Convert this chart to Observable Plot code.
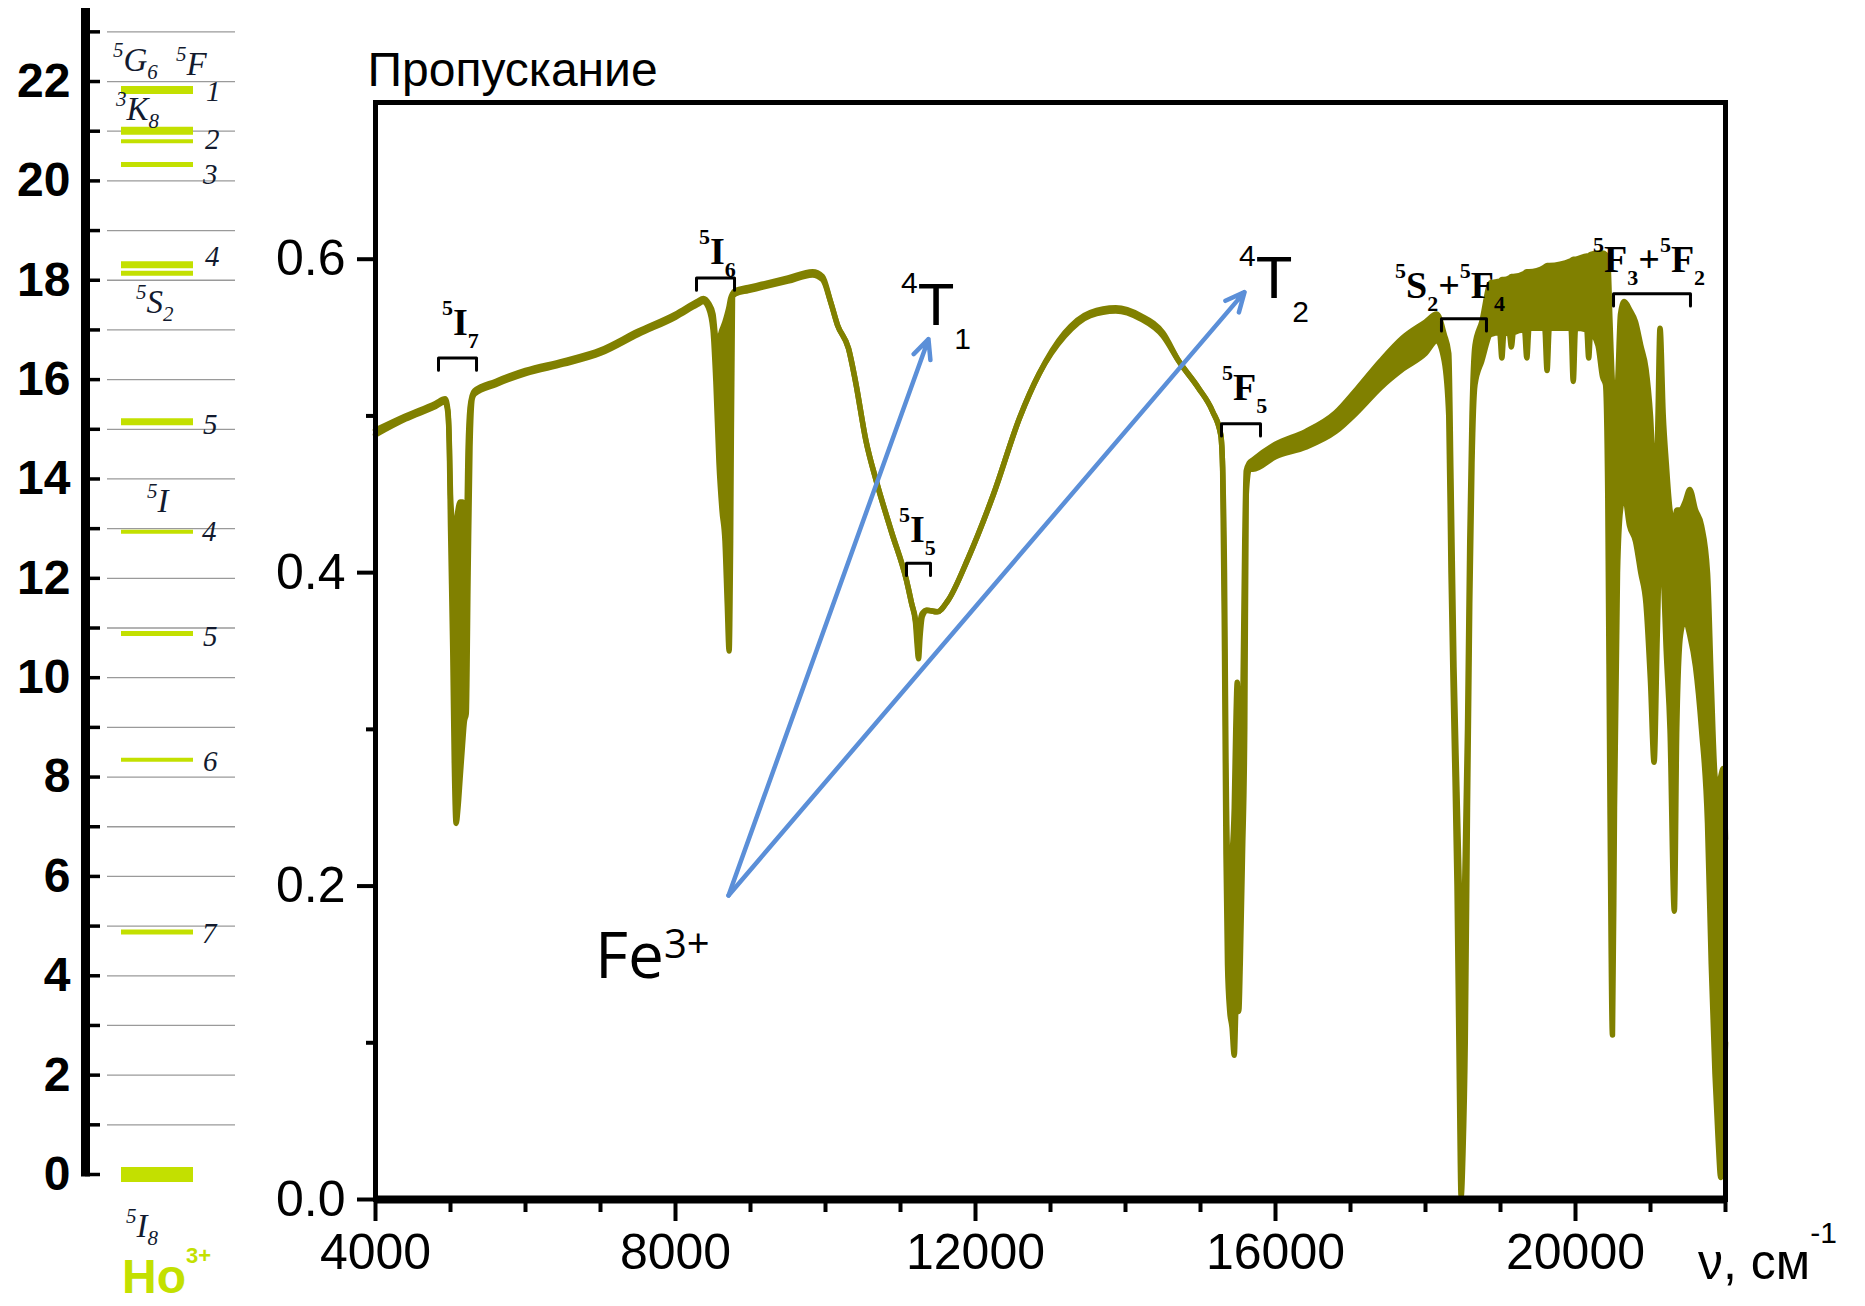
<!DOCTYPE html>
<html><head><meta charset="utf-8">
<script src="https://cdn.jsdelivr.net/npm/d3@7"></script>
<script src="https://cdn.jsdelivr.net/npm/@observablehq/plot@0.6"></script>
<style>
html,body{margin:0;padding:0;background:#fff;}
#wrap{position:relative;width:1865px;height:1306px;overflow:hidden;background:#fff;}
#wrap > svg{position:absolute;left:0;top:0;}
</style></head>
<body><div id="wrap"></div>
<script>
// ---------- Spectrum (transmission vs wavenumber, cm^-1) ----------
const wn = [4000,4400,4800,4928,4965,4985,5000,5030,5050,5075,5100,5130,5160,5185,5210,5235,5260,5290,5320,5600,6000,6500,7000,7500,8000,8290,8373,8440,8500,8540,8580,8620,8660,8690,8715,8735,8760,8800,8970,9150,9500,9827,9960,10067,10160,10307,10400,10540,10680,10880,11080,11150,11200,11220,11240,11262,11290,11350,11490,11630,11900,12240,12590,12850,13190,13530,13870,14200,14500,14710,14970,15160,15270,15295,15320,15340,15360,15390,15420,15450,15470,15490,15510,15530,15560,15590,15610,15650,15700,16000,16400,16800,17100,17400,17700,18000,18150,18250,18310,18340,18380,18420,18450,18475,18500,18530,18560,18590,18620,18660,18750,18870,18990,19018,19045,19120,19145,19170,19320,19351,19380,19590,19621,19650,19940,19970,20000,20150,20176,20200,20300,20360,20400,20430,20460,20493,20520,20560,20600,20650,20720,20800,20870,20940,21000,21048,21090,21127,21170,21210,21260,21318,21350,21400,21460,21524,21600,21680,21760,21810,21860,21900,21937,21969,22000];
const tLow = [.488,.498,.506,.509,.502,.478,.430,.350,.280,.240,.250,.270,.290,.305,.310,.400,.480,.511,.514,.520,.527,.533,.540,.552,.563,.571,.573,.569,.555,.520,.470,.440,.420,.380,.350,.420,.576,.578,.580,.582,.586,.590,.587,.573,.558,.543,.522,.484,.458,.426,.395,.380,.368,.355,.345,.360,.372,.376,.375,.382,.409,.450,.499,.527,.551,.564,.567,.562,.551,.535,.518,.503,.488,.467,.350,.220,.150,.120,.110,.092,.120,.150,.120,.150,.220,.300,.450,.466,.466,.474,.480,.490,.503,.518,.530,.540,.548,.535,.500,.400,.300,.200,.080,.002,.030,.100,.250,.380,.470,.520,.535,.552,.553,.537,.553,.552,.544,.553,.555,.537,.556,.556,.529,.556,.556,.522,.556,.555,.537,.553,.545,.525,.520,.450,.250,.105,.250,.400,.440,.450,.430,.420,.400,.380,.330,.279,.360,.420,.400,.350,.300,.184,.300,.360,.370,.360,.340,.300,.240,.150,.080,.040,.014,.050,.100];
const tHigh = [.491,.500,.508,.511,.504,.482,.450,.430,.425,.430,.440,.445,.445,.440,.420,.480,.505,.513,.516,.522,.529,.535,.542,.554,.565,.573,.575,.572,.565,.550,.550,.555,.560,.565,.570,.575,.578,.580,.582,.584,.588,.592,.589,.573,.558,.543,.522,.484,.458,.426,.395,.380,.370,.362,.350,.368,.374,.376,.375,.382,.409,.450,.499,.527,.553,.566,.569,.564,.553,.535,.518,.503,.488,.467,.400,.280,.220,.210,.220,.250,.300,.330,.280,.250,.300,.420,.465,.470,.472,.482,.490,.502,.518,.535,.550,.560,.565,.552,.540,.460,.340,.260,.200,.150,.160,.220,.300,.420,.500,.545,.560,.585,.586,.587,.587,.588,.589,.589,.591,.592,.592,.595,.596,.596,.599,.600,.600,.602,.602,.603,.604,.604,.603,.600,.560,.520,.510,.520,.565,.573,.568,.560,.545,.530,.500,.460,.480,.556,.500,.470,.440,.430,.440,.440,.445,.453,.440,.430,.400,.330,.270,.260,.270,.275,.230];

// Axis ticks
const xMajor = [4000, 8000, 12000, 16000, 20000];
const xMinor = [5000,6000,7000,9000,10000,11000,13000,14000,15000,17000,18000,19000,21000,22000];
const yMajor = [0, 0.2, 0.4, 0.6];
const yMinor = [0.1, 0.3, 0.5];

// Ho3+ transition brackets (wavenumber range, transmission level)
const bracketFrom = [4840, 8280, 11080, 15280, 18213, 20507];
const bracketTo   = [5347, 8787, 11400, 15800, 18813, 21533];
const bracketAt   = [0.537, 0.588, 0.406, 0.495, 0.562, 0.578];
const bracketText = ["^5|I|_7", "^5|I|_6", "^5|I|_5", "^5|F|_5", "^5|S|_2|+|^5|F|_4", "^5|F|_3|+|^5|F|_2"];
const bracketTextWn = [4893, 8320, 10987, 15293, 17600, 20240];
const bracketTextT  = [0.5513, 0.5966, 0.4192, 0.5098, 0.5749, 0.5915];

// Fe3+ arrows
const arrowFromWn = [8707, 8707], arrowFromT = [0.194, 0.194];
const arrowToWn = [11373, 15587], arrowToT = [0.549, 0.579];
const feText = ["^4|T|_1", "^4|T|_2"];
const feTextWn = [11013, 15520], feTextT = [0.5577, 0.5749];

// ---------- Ho3+ energy levels (10^3 cm^-1) ----------
const levelE = [0, 4.88, 8.35, 10.89, 12.94, 15.15, 18.14, 18.31, 20.33, 20.8, 21.01, 21.83];
const levelThickness = [15, 5, 4, 5, 4, 7, 5, 7, 5, 4, 8, 8];
const energyTicks = d3.range(0, 24);
const energyLabels = d3.range(0, 23, 2);
const termNames = ["^5|G|_6", "^5|F", "^3|K|_8", "^5|S|_2", "^5|I", "^5|I|_8"];
const termE = [22.2, 22.12, 21.22, 17.34, 13.33, -1.27];
const termX = [113, 176, 116, 136, 147, 126];
const jNames = ["1", "2", "3", "4", "5", "4", "5", "6", "7"];
const jE = [21.6, 20.64, 19.93, 18.27, 14.9, 12.74, 10.63, 8.11, 4.64];
const jX = [206, 205, 203, 205, 203, 202, 203, 203, 202];

const OLIVE = "#808000", BLUE = "#5b8fd8", GREEN = "#c3e000", INK = "#121a2e";

const spectrum = wn.map((w, i) => ({wn: w, lo: tLow[i], hi: tHigh[i]}));
const brackets = bracketFrom.flatMap((a, i) => {
  const d = 0.0078;
  return [[a, bracketAt[i] - d], [a, bracketAt[i]], [bracketTo[i], bracketAt[i]], [bracketTo[i], bracketAt[i] - d]]
    .map(([x, y]) => ({x, y, k: i}));
});
const arrows = arrowFromWn.map((w, i) => ({x1: w, y1: arrowFromT[i], x2: arrowToWn[i], y2: arrowToT[i]}));

function parseParts(s) {
  return s.split("|").map(p => p[0] === "^" ? {t: p.slice(1), r: "sup"} : p[0] === "_" ? {t: p.slice(1), r: "sub"} : {t: p, r: null});
}
// Custom mark: rich text (super/subscripts) placed through the plot's own scales
function richText(items, o) {
  return (index, scales) => {
    const g = d3.create("svg:g");
    for (const it of items) {
      const t = g.append("text")
        .attr("x", scales.x(it.x)).attr("y", scales.y(it.y))
        .attr("font-family", o.font).attr("font-weight", o.weight || "normal")
        .attr("font-style", o.style || "normal").attr("fill", o.fill || "#000")
        .attr("text-anchor", o.anchor || "start");
      let cur = 0;
      for (const p of parseParts(it.s)) {
        const shift = p.r === "sup" ? o.sup : p.r === "sub" ? o.sub : 0;
        t.append("tspan").attr("dy", shift - cur).attr("font-size", p.r ? o.small : o.big).text(p.t);
        cur = shift;
      }
    }
    return g.node();
  };
}

const main = Plot.plot({
  width: 1865, height: 1306,
  marginLeft: 375, marginRight: 140, marginTop: 102, marginBottom: 107,
  x: {domain: [4000, 22000]},
  y: {domain: [0, 0.7]},
  style: {fontFamily: "Liberation Sans, Arial, sans-serif", background: "white", color: "black"},
  marks: [
    Plot.areaY(spectrum, {x: "wn", y1: "lo", y2: "hi", fill: OLIVE, curve: "monotone-x"}),
    Plot.line(spectrum, {x: "wn", y: "lo", stroke: OLIVE, strokeWidth: 5.5, strokeLinejoin: "round", curve: "monotone-x"}),
    Plot.line(spectrum, {x: "wn", y: "hi", stroke: OLIVE, strokeWidth: 5.5, strokeLinejoin: "round", curve: "monotone-x"}),
    Plot.line(brackets, {x: "x", y: "y", z: "k", stroke: "black", strokeWidth: 3, curve: "linear"}),
    richText(bracketText.map((s, i) => ({s, x: bracketTextWn[i], y: bracketTextT[i]})),
      {font: "Liberation Serif, Times New Roman, serif", weight: "bold", big: 38, small: 22, sup: -20, sub: 13}),
    Plot.arrow(arrows, {x1: "x1", y1: "y1", x2: "x2", y2: "y2", stroke: BLUE, strokeWidth: 4.5, headLength: 7, headAngle: 50}),
    richText(feText.map((s, i) => ({s, x: feTextWn[i], y: feTextT[i]})),
      {font: "Liberation Sans, Arial, sans-serif", big: 60, small: 30, sup: -32, sub: 24}),
    richText([{s: "Fe|^3+", x: 6933, y: 0.141}],
      {font: "Open Sans, Noto Sans, sans-serif", big: 64, small: 40, sup: -20, sub: 0}),
    Plot.frame({stroke: "black", strokeWidth: 5}),
    Plot.ruleY([0], {stroke: "black", strokeWidth: 8}),
    Plot.axisX(xMajor, {tickSize: 22, tickPadding: 12, fontSize: 50, strokeWidth: 4, tickFormat: d => String(d)}),
    Plot.axisX(xMinor, {tickSize: 13, strokeWidth: 4, tickFormat: () => ""}),
    Plot.axisY(yMajor, {tickSize: 18, tickPadding: 12, fontSize: 50, strokeWidth: 4, tickFormat: d3.format(".1f")}),
    Plot.axisY(yMinor, {tickSize: 9, strokeWidth: 4, tickFormat: () => ""}),
    Plot.text(["Пропускание"], {frameAnchor: "top-left", dx: -8, dy: -17, lineAnchor: "bottom", textAnchor: "start", fontSize: 48}),
    richText([{s: "ν, см|^-1", x: 21640, y: -0.051}],
      {font: "Liberation Sans, Arial, sans-serif", big: 50, small: 30, sup: -36, sub: 0})
  ]
});

const levels = Plot.plot({
  width: 260, height: 1306,
  marginLeft: 0, marginRight: 0, marginTop: 8, marginBottom: 132,
  x: {domain: [0, 260], axis: null},
  y: {domain: [0, 23.47], axis: null},
  style: {background: "transparent", overflow: "visible", fontFamily: "Liberation Sans, Arial, sans-serif"},
  marks: [
    Plot.ruleY(energyTicks.slice(1), {x1: 107, x2: 235, stroke: "#9a9a9a", strokeWidth: 1.3}),
    Plot.ruleY(energyTicks, {x1: 85, x2: 100, stroke: "black", strokeWidth: 3.5}),
    Plot.ruleX([85], {y1: -0.05, y2: 23.47, stroke: "black", strokeWidth: 9}),
    Plot.text(energyLabels, {x: 70, y: d => d, text: d => String(d), textAnchor: "end", fontSize: 48, fontWeight: "bold", lineAnchor: "middle"}),
    Plot.ruleY(levelE, {y: d => d, x1: 121, x2: 193, stroke: GREEN, strokeWidth: (d, i) => levelThickness[i]}),
    richText(termNames.map((s, i) => ({s, y: termE[i], x: termX[i]})),
      {font: "Liberation Serif, Times New Roman, serif", style: "italic", fill: INK, big: 33, small: 21, sup: -14, sub: 8}),
    richText(jNames.map((s, i) => ({s, y: jE[i], x: jX[i]})),
      {font: "Liberation Serif, Times New Roman, serif", style: "italic", fill: INK, big: 29, small: 20, sup: 0, sub: 0}),
    richText([{s: "Ho|^3+", x: 122, y: -2.4}],
      {font: "Liberation Sans, Arial, sans-serif", weight: "bold", fill: GREEN, big: 48, small: 22, sup: -30, sub: 0})
  ]
});
levels.style.pointerEvents = "none";

const wrap = document.getElementById("wrap");
wrap.appendChild(main);
wrap.appendChild(levels);
</script>
</body></html>
